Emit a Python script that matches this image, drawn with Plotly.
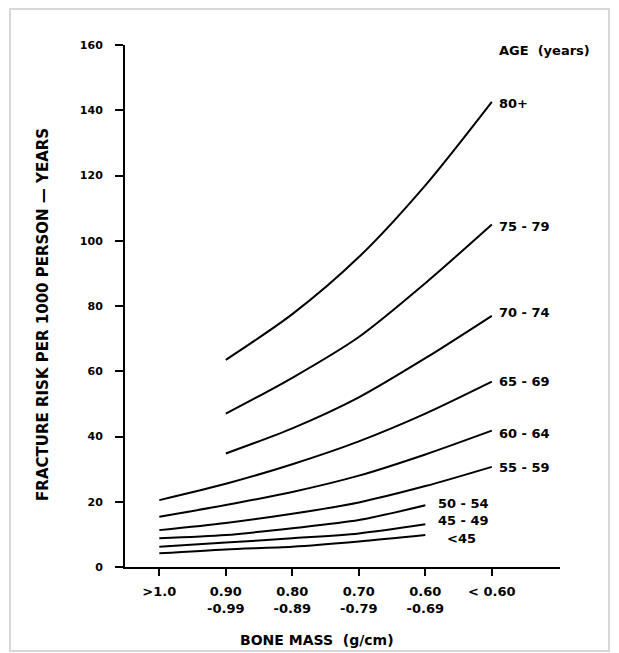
import plotly.graph_objects as go

# ---- data ----
bone_mass = ["&gt;1.0", "0.90<br>-0.99", "0.80<br>-0.89", "0.70<br>-0.79", "0.60<br>-0.69", "&lt; 0.60"]
age_groups = ["80+", "75 - 79", "70 - 74", "65 - 69", "60 - 64", "55 - 59", "50 - 54", "45 - 49", "&lt;45"]

risk_80p   = [None, 63.5, 77.5, 95.0, 117.0, 142.6]
risk_75_79 = [None, 47.0, 58.0, 70.5, 87.0, 105.0]
risk_70_74 = [None, 34.8, 42.5, 52.0, 64.0, 77.0]
risk_65_69 = [20.5, 25.5, 31.5, 38.5, 47.0, 56.8]
risk_60_64 = [15.4, 19.0, 23.0, 28.0, 34.5, 41.8]
risk_55_59 = [11.3, 13.5, 16.3, 19.8, 24.8, 30.7]
risk_50_54 = [8.8, 9.8, 11.9, 14.4, 18.9, None]
risk_45_49 = [6.2, 7.5, 8.8, 10.3, 13.1, None]
risk_lt45  = [4.2, 5.4, 6.2, 7.8, 9.8, None]

y_ticks = [0, 20, 40, 60, 80, 100, 120, 140, 160]

series = [risk_80p, risk_75_79, risk_70_74, risk_65_69, risk_60_64,
          risk_55_59, risk_50_54, risk_45_49, risk_lt45]

# label offsets (pixels) relative to the end of each curve
label_dx = [5, 5, 5, 5, 5, 5, 11, 11, 20]
label_dy = [-2, -2, 3, 0, -3, -1, 2, 4, -3]

FONT = "DejaVu Sans"
xs = list(range(len(bone_mass)))

W, H = 611, 645
ML, MR, MT, MB = 117, 59, 37, 86
PW, PH = W - ML - MR, H - MT - MB

fig = go.Figure()
annotations = []
for name, vals, dx, dy in zip(age_groups, series, label_dx, label_dy):
    px_ = [x for x, v in zip(xs, vals) if v is not None]
    py_ = [v for v in vals if v is not None]
    fig.add_trace(go.Scatter(x=px_, y=py_, mode="lines", name=name,
                             line=dict(color="black", width=2, shape="spline", smoothing=0.8),
                             showlegend=False, hoverinfo="skip"))
    annotations.append(dict(x=px_[-1], y=py_[-1], xref="x", yref="y", text="<b>%s</b>" % name,
                            showarrow=False, xanchor="left", yanchor="middle",
                            xshift=dx, yshift=dy,
                            font=dict(family=FONT, size=13, color="black")))

annotations.append(dict(x=5, y=160, xref="x", yref="y", text="<b>AGE&nbsp; (years)</b>", showarrow=False,
                        xanchor="left", yanchor="middle", xshift=5, yshift=-5,
                        font=dict(family=FONT, size=13, color="black")))
annotations.append(dict(x=0.441, y=-0.14, xref="paper", yref="paper", text="<b>BONE MASS&nbsp; (g/cm)</b>",
                        showarrow=False, xanchor="center", yanchor="middle",
                        font=dict(family=FONT, size=14, color="black")))
annotations.append(dict(x=-0.1885, y=0.483, xref="paper", yref="paper",
                        text="<b>FRACTURE RISK PER 1000 PERSON — YEARS</b>", textangle=-90,
                        showarrow=False, xanchor="center", yanchor="middle",
                        font=dict(family=FONT, size=15, color="black")))

fig.update_layout(
    width=W, height=H,
    margin=dict(l=ML, r=MR, t=MT, b=MB),
    paper_bgcolor="white", plot_bgcolor="white",
    annotations=annotations,
    shapes=[dict(type="rect", xref="paper", yref="paper",
                 x0=(2 - ML) / PW, x1=(601 - ML) / PW,
                 y0=(MT + PH - 643) / PH, y1=(MT + PH - 1) / PH,
                 line=dict(color="#d8d8d8", width=2), layer="below")],
)
fig.update_xaxes(range=[-0.516, 6.025], tickvals=xs, ticktext=["<b>%s</b>" % t for t in bone_mass],
                 showline=True, linecolor="black", linewidth=2, ticks="outside", ticklen=7,
                 tickwidth=2, tickcolor="black", showgrid=False, zeroline=False,
                 ticklabelstandoff=4,
                 tickfont=dict(family=FONT, size=13, color="black"))
fig.update_yaxes(range=[0, 160], tickvals=y_ticks, ticktext=["<b>%d</b>" % v for v in y_ticks],
                 showline=True, linecolor="black", linewidth=2, ticks="outside", ticklen=8,
                 tickwidth=2, tickcolor="black", showgrid=False, zeroline=False,
                 ticklabelstandoff=10,
                 tickfont=dict(family=FONT, size=11, color="black"))

fig.write_html("out.html")
